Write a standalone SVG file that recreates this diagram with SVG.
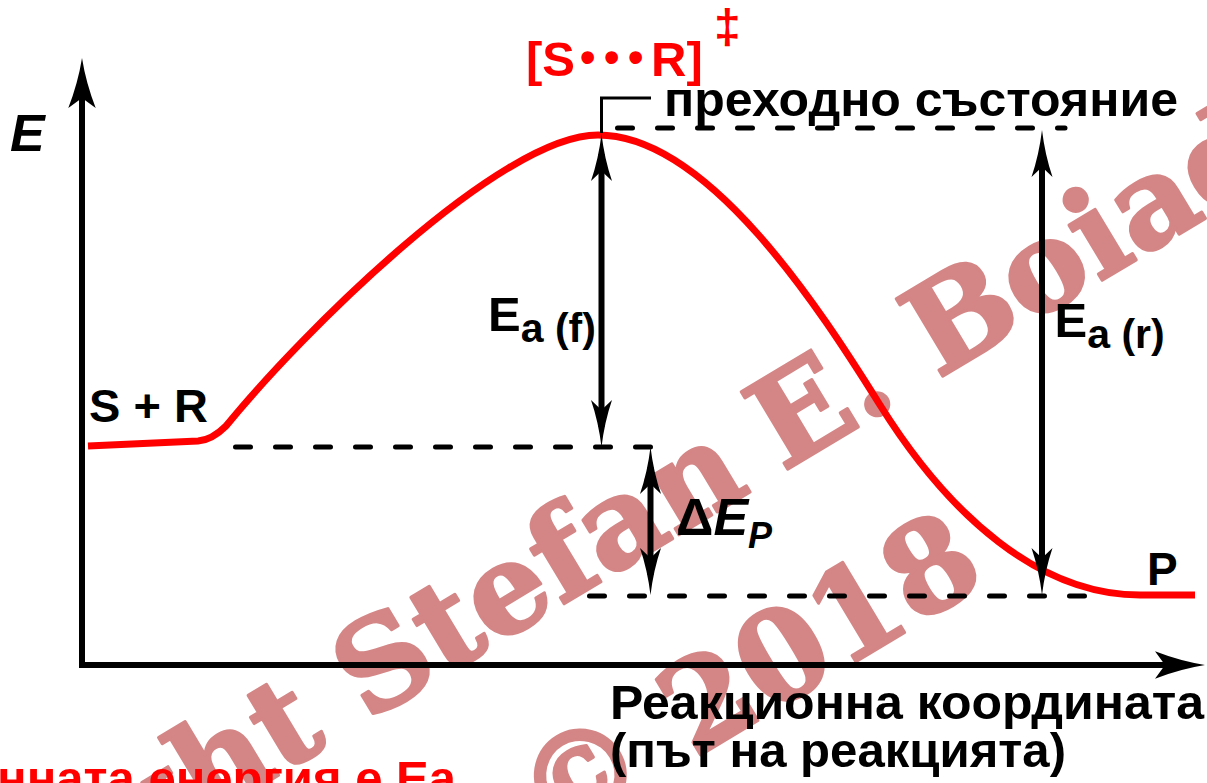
<svg xmlns="http://www.w3.org/2000/svg" width="1207" height="783" viewBox="0 0 1207 783">
<defs>
<style>
.wm{font-family:"DejaVu Serif",serif;font-weight:bold;font-size:124px;fill:#D48585;stroke:#D48585;stroke-width:3;stroke-linejoin:round}
.lbl{font-family:"Liberation Sans",Arial,sans-serif;font-weight:bold;fill:#000}
.red{fill:#FF0000}
.dash{stroke:#000;stroke-width:5;stroke-linecap:round;stroke-dasharray:15 25;fill:none}
.shaft{stroke:#000;stroke-width:6;fill:none}
</style>
<marker id="ah" markerUnits="userSpaceOnUse" viewBox="-30 -12 52 24" refX="0" refY="0" markerWidth="52" markerHeight="24" orient="auto-start-reverse" overflow="visible">
<path d="M20 0 Q-5 -3 -27 -10.5 L-17 0 L-27 10.5 Q-5 3 20 0Z" fill="#000"/>
</marker>
<marker id="axh" markerUnits="userSpaceOnUse" viewBox="-30 -15 54 30" refX="0" refY="0" markerWidth="54" markerHeight="30" orient="auto" overflow="visible">
<path d="M22 0 Q-3 -4 -28 -13.7 L-18 0 L-28 13.7 Q-3 4 22 0Z" fill="#000"/>
</marker>
</defs>
<rect width="1207" height="783" fill="#fff"/>
<g id="watermark" transform="translate(786.7,470) rotate(-31)">
<text class="wm" x="-40" y="0" text-anchor="end">Copyright Stefan</text>
<text class="wm" x="-4.5" y="0">E. Boiadjiev</text>
<text class="wm" x="-140" y="200" text-anchor="middle">© 2018</text>
</g>
<g id="axes">
<line class="shaft" x1="82" y1="668" x2="82" y2="80" marker-end="url(#axh)"/>
<line class="shaft" x1="79" y1="665" x2="1183" y2="665" marker-end="url(#axh)"/>
</g>
<g id="curve">
<path d="M88 446 L198 441 Q212 440 226 426 C300 335 500 135 598 135 C708 135 820 309 880 405 C950 517 1040 595 1140 595 L1195 595" fill="none" stroke="#FF0000" stroke-width="7"/>
</g>
<g id="connectors">
<path class="dash" d="M235.5 447 H650.5"/>
<path class="dash" d="M589.5 596 H1084.5"/>
<path class="dash" d="M617.5 128 H1065"/>
<path d="M601.5 133 V98 H651" fill="none" stroke="#000" stroke-width="3"/>
<line class="shaft" x1="601.5" y1="154" x2="601.5" y2="427" marker-start="url(#ah)" marker-end="url(#ah)"/>
<line class="shaft" x1="1042" y1="150" x2="1042" y2="575" marker-start="url(#ah)" marker-end="url(#ah)"/>
<line class="shaft" x1="650.5" y1="467" x2="650.5" y2="575" marker-start="url(#ah)" marker-end="url(#ah)"/>
</g>
<g id="axis-label-E"><text class="lbl" x="10" y="151" font-size="52" font-style="italic">E</text></g>
<g id="node-reactants"><text class="lbl" x="89" y="422" font-size="47">S + R</text></g>
<g id="node-transition">
<text class="lbl red" x="526" y="76" font-size="49">[S<tspan dx="5" dy="-4" font-size="44" letter-spacing="8.6">•••</tspan><tspan dx="-1" dy="4">R]</tspan></text>
<text class="lbl red" x="714" y="43" font-size="48">‡</text>
</g>
<g id="label-transition"><text class="lbl" x="664" y="116" font-size="49" textLength="514" lengthAdjust="spacingAndGlyphs">преходно състояние</text></g>
<g id="label-eaf"><text class="lbl" x="488" y="331" font-size="49">E<tspan font-size="41" dy="11">a (f)</tspan></text></g>
<g id="label-ear"><text class="lbl" x="1054.5" y="337" font-size="49">E<tspan font-size="41" dy="11">a (r)</tspan></text></g>
<g id="label-dE"><text class="lbl" x="676" y="535" font-size="52">Δ<tspan font-style="italic">E</tspan><tspan font-style="italic" font-size="36" dy="13">P</tspan></text></g>
<g id="node-products"><text class="lbl" x="1147" y="585" font-size="46">P</text></g>
<g id="axis-label-x">
<text class="lbl" x="610" y="719" font-size="48" textLength="594" lengthAdjust="spacingAndGlyphs">Реакционна координата</text>
<text class="lbl" x="610" y="767" font-size="48" textLength="456" lengthAdjust="spacingAndGlyphs">(път на реакцията)</text>
</g>
<g id="caption"><text class="lbl red" x="456" y="795" font-size="49" text-anchor="end">Активационната енергия е Ea</text></g>
</svg>
